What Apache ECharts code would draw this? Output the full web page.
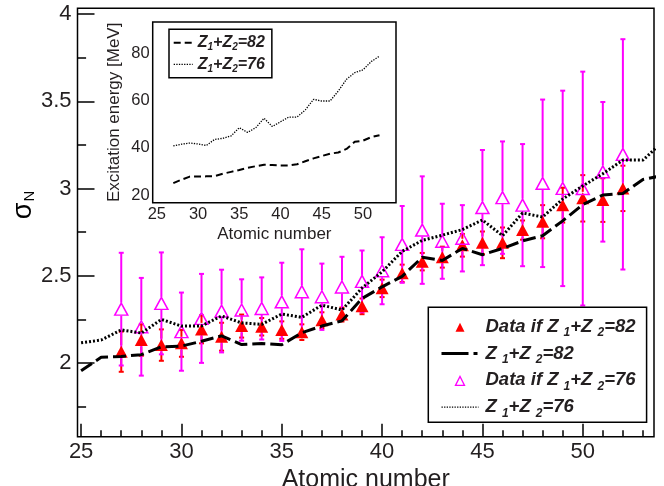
<!DOCTYPE html>
<html>
<head>
<meta charset="utf-8">
<title>Sigma_N vs atomic number</title>
<script src="https://cdn.jsdelivr.net/npm/echarts@6/dist/echarts.min.js"></script>
<style>
  html, body { margin: 0; padding: 0; background: #fff; }
  #chart { width: 664px; height: 486px; }
</style>
</head>
<body>
<div id="chart"></div>
<script>
// Atomic numbers of the measured fragments
const dataZ = [27, 28, 29, 30, 31, 32, 33, 34, 35, 36, 37, 38, 39, 40, 41, 42, 43, 44, 45, 46, 47, 48, 49, 50, 51, 52];

// sigma_N extracted assuming Z1+Z2=82, with uncertainties
const sigma82 = [2.065, 2.132, 2.103, 2.113, 2.193, 2.151, 2.212, 2.208, 2.189, 2.177, 2.246, 2.278, 2.325, 2.428, 2.514, 2.581, 2.607, 2.675, 2.689, 2.689, 2.762, 2.810, 2.905, 2.944, 2.934, 3.001];
const sigma82Err = [0.115, 0.09, 0.09, 0.077, 0.08, 0.08, 0.066, 0.05, 0.05, 0.045, 0.045, 0.04, 0.045, 0.05, 0.05, 0.05, 0.06, 0.065, 0.065, 0.088, 0.055, 0.095, 0.10, 0.133, 0.125, 0.13];

// sigma_N extracted assuming Z1+Z2=76, with uncertainties
const sigma76 = [2.309, 2.208, 2.342, 2.180, 2.256, 2.298, 2.304, 2.313, 2.351, 2.409, 2.380, 2.436, 2.468, 2.529, 2.680, 2.762, 2.698, 2.715, 2.891, 2.948, 2.905, 3.030, 3.001, 3.000, 3.096, 3.196];
const sigma76Err = [0.323, 0.28, 0.292, 0.224, 0.255, 0.237, 0.176, 0.178, 0.224, 0.243, 0.19, 0.173, 0.177, 0.192, 0.22, 0.308, 0.215, 0.19, 0.33, 0.322, 0.35, 0.48, 0.56, 0.67, 0.40, 0.66];

// Model curves for sigma_N
const curveZ = [25, 26, 27, 28, 29, 30, 31, 32, 33, 34, 35, 36, 37, 38, 39, 40, 41, 42, 43, 44, 45, 46, 47, 48, 49, 50, 51, 52, 53, 54];
const curve82 = [1.956, 2.033, 2.038, 2.048, 2.093, 2.097, 2.125, 2.156, 2.106, 2.112, 2.105, 2.174, 2.212, 2.242, 2.370, 2.437, 2.497, 2.606, 2.588, 2.657, 2.621, 2.657, 2.700, 2.730, 2.815, 2.908, 2.963, 2.972, 3.052, 3.075];
const curve76 = [2.116, 2.132, 2.190, 2.172, 2.250, 2.212, 2.213, 2.270, 2.230, 2.222, 2.281, 2.262, 2.332, 2.304, 2.430, 2.523, 2.640, 2.703, 2.733, 2.765, 2.820, 2.730, 2.860, 2.837, 2.940, 3.015, 3.085, 3.163, 3.163, 3.270];

// Excitation energy [MeV] per fragment (inset)
const excite82 = [25.0, 26.5, 27.8, 27.8, 27.9, 28.0, 29.0, 29.8, 30.6, 31.5, 32.2, 32.8, 32.7, 32.5, 32.5, 33.0, 34.3, 35.5, 36.5, 37.5, 38.0, 39.5, 42.5, 43.0, 44.5, 45.3];
const excite76 = [40.8, 41.5, 42.0, 41.6, 41.0, 43.5, 44.0, 45.0, 48.5, 46.5, 48.5, 52.5, 49.0, 51.0, 53.0, 53.0, 56.0, 60.5, 59.8, 59.8, 64.0, 69.0, 71.8, 73.0, 76.5, 78.8];

// Tick positions
const mainXMajor = [25, 30, 35, 40, 45, 50];
const mainXMinor = [25, 26, 27, 28, 29, 30, 31, 32, 33, 34, 35, 36, 37, 38, 39, 40, 41, 42, 43, 44, 45, 46, 47, 48, 49, 50, 51, 52, 53];
const mainYMajor = [2, 2.5, 3, 3.5, 4];
const mainYMinor = [1.75, 2.25, 2.75, 3.25, 3.75];
const insetXMajor = [25, 30, 35, 40, 45, 50];
const insetXMinor = mainXMinor;
const insetYMajor = [20, 40, 60, 80];
const insetYMinor = [30, 50, 70, 90];

const FONT = '"Liberation Sans", Arial, Helvetica, sans-serif';
const TEXT = '#231f20';

const zip = (xs, ...cols) => xs.map((x, i) => [x, ...cols.map(c => c[i])]);

function errorBars(color) {
  return function (params, api) {
    const x = api.value(0), v = api.value(1), e = api.value(2);
    const c = api.coord([x, v]);
    const hi = api.coord([x, v + e]);
    const lo = api.coord([x, v - e]);
    const gap = 6.5, cap = 2.5;
    const st = { stroke: color, lineWidth: 2 };
    const kids = [];
    if (c[1] - gap > hi[1]) {
      kids.push({ type: 'line', shape: { x1: c[0], y1: c[1] - gap, x2: c[0], y2: hi[1] }, style: st });
    }
    if (c[1] + gap < lo[1]) {
      kids.push({ type: 'line', shape: { x1: c[0], y1: c[1] + gap, x2: c[0], y2: lo[1] }, style: st });
    }
    kids.push({ type: 'line', shape: { x1: c[0] - cap, y1: hi[1], x2: c[0] + cap, y2: hi[1] }, style: st });
    kids.push({ type: 'line', shape: { x1: c[0] - cap, y1: lo[1], x2: c[0] + cap, y2: lo[1] }, style: st });
    return { type: 'group', children: kids };
  };
}

const tickStyle = { color: '#000', width: 1.5 };
const labelBase = { color: TEXT, fontFamily: FONT };

function tickAxis(gridIndex, min, max, values, len, label) {
  return {
    type: 'value', gridIndex, min, max,
    axisLine: { show: false },
    splitLine: { show: false },
    axisTick: { show: true, inside: true, length: len, lineStyle: tickStyle, customValues: values },
    axisLabel: label ? Object.assign({ customValues: values }, labelBase, label) : { show: false }
  };
}

const xAxes = [
  Object.assign(tickAxis(0, 24.82, 53.55, mainXMajor, 13, { fontSize: 22, margin: 4 }), {
    position: 'bottom', name: 'Atomic number', nameLocation: 'middle', nameGap: 21.5,
    nameTextStyle: { fontSize: 25, color: TEXT, fontFamily: FONT }
  }),
  Object.assign(tickAxis(0, 24.82, 53.55, mainXMinor, 6.5, null), { position: 'bottom' }),
  Object.assign(tickAxis(1, 24.5, 54, insetXMajor, 5.5, { fontSize: 16.5, margin: 3 }), {
    position: 'bottom', name: 'Atomic number', nameLocation: 'middle', nameGap: 23,
    nameTextStyle: { fontSize: 17, color: TEXT, fontFamily: FONT }
  }),
  Object.assign(tickAxis(1, 24.5, 54, insetXMinor, 2.8, null), { position: 'bottom' })
];

const yAxes = [
  Object.assign(tickAxis(0, 1.578, 4.033, mainYMajor, 17, { fontSize: 22, margin: 6 }), { position: 'left' }),
  Object.assign(tickAxis(0, 1.578, 4.033, mainYMinor, 8.6, null), { position: 'left' }),
  Object.assign(tickAxis(1, 16.74, 93.25, insetYMajor, 7.3, { fontSize: 16.5, margin: 3 }), {
    position: 'left', name: 'Excitation energy [MeV]', nameLocation: 'middle', nameGap: 30,
    nameTextStyle: { fontSize: 17, color: TEXT, fontFamily: FONT }
  }),
  Object.assign(tickAxis(1, 16.74, 93.25, insetYMinor, 3.6, null), { position: 'left' })
];

const legendLabels = {
  'Data if Z1+Z2=82': 'Data if Z {s|1}+Z {s|2}=82',
  'Z1+Z2=82': 'Z {s|1}+Z {s|2}=82',
  'Data if Z1+Z2=76': 'Data if Z {s|1}+Z {s|2}=76',
  'Z1+Z2=76': 'Z {s|1}+Z {s|2}=76',
  'E* Z1+Z2=82': 'Z{s|1}+Z{s|2}=82',
  'E* Z1+Z2=76': 'Z{s|1}+Z{s|2}=76'
};

const hiddenDot = { opacity: 0, color: 'rgba(0,0,0,0)', borderWidth: 0 };
// Legend marker: a small triangle centred in the 37x10 icon box (the extra moveTo
// points only widen the path's bounds so the triangle is not stretched)
const legendTriangle = 'path://M0,0M37,10M14,10L18.5,1L23,10Z';

const chart = echarts.init(document.getElementById('chart'), null, { renderer: 'canvas' });

chart.setOption({
  animation: false,
  backgroundColor: '#fff',
  grid: [
    { left: 77.5, top: 8.3, width: 576.5, height: 428.4, show: true, borderColor: '#000', borderWidth: 1.5,
      backgroundColor: '#fff', outerBoundsMode: 'none' },
    { left: 152.7, top: 22, width: 243.3, height: 180.7, show: true, borderColor: '#000', borderWidth: 1.5,
      backgroundColor: '#fff', outerBoundsMode: 'none', z: 5 }
  ],
  xAxis: xAxes,
  yAxis: yAxes,
  legend: [
    {
      orient: 'vertical', left: 428.3, top: 307.3, align: 'left',
      padding: [7.5, 11, 3, 11.7], itemGap: 2.8, itemWidth: 37, itemHeight: 10,
      backgroundColor: '#fff', borderColor: '#000', borderWidth: 1.5, borderRadius: 0,
      selectedMode: false,
      data: [
        { name: 'Data if Z1+Z2=82', icon: legendTriangle, itemStyle: { color: '#ff0000', borderWidth: 0 } },
        { name: 'Z1+Z2=82', itemStyle: hiddenDot, lineStyle: { type: [27, 5, 4, 20], width: 3, color: '#000' } },
        { name: 'Data if Z1+Z2=76', icon: legendTriangle, itemStyle: { color: 'rgba(0,0,0,0)', borderColor: '#ff00ff', borderWidth: 1.3 } },
        { name: 'Z1+Z2=76', itemStyle: hiddenDot, lineStyle: { type: [1.3, 1.3], width: 1.3, color: '#000' } }
      ],
      formatter: n => legendLabels[n],
      textStyle: {
        fontSize: 18.5, fontWeight: 'bold', fontStyle: 'italic', lineHeight: 20,
        fontFamily: FONT, color: TEXT, padding: [0, 0, 0, 2],
        rich: { s: { fontSize: 12, fontWeight: 'bold', fontStyle: 'italic', lineHeight: 12,
                     padding: [12, 0, 0, 0], fontFamily: FONT, color: TEXT } }
      }
    },
    {
      orient: 'vertical', left: 169, top: 29.3, align: 'left',
      padding: [3.4, 7, 3.4, 3.7], itemGap: 1.6, itemWidth: 19, itemHeight: 10,
      backgroundColor: '#fff', borderColor: '#000', borderWidth: 1.5, borderRadius: 0,
      selectedMode: false, z: 10,
      data: [
        { name: 'E* Z1+Z2=82', itemStyle: hiddenDot, lineStyle: { type: [7, 4], width: 2, color: '#000' } },
        { name: 'E* Z1+Z2=76', itemStyle: hiddenDot, lineStyle: { type: [1.3, 1.3], width: 1.3, color: '#000' } }
      ],
      formatter: n => legendLabels[n],
      textStyle: {
        fontSize: 16, fontWeight: 'bold', fontStyle: 'italic', lineHeight: 18,
        fontFamily: FONT, color: TEXT,
        rich: { s: { fontSize: 10, fontWeight: 'bold', fontStyle: 'italic', lineHeight: 10,
                     padding: [10, 0, 0, 0], fontFamily: FONT, color: TEXT } }
      }
    }
  ],
  graphic: [
    {
      type: 'text', x: 24, y: 205, rotation: Math.PI / 2, z: 20,
      style: {
        text: '{g|σ}{n|N}', align: 'center', verticalAlign: 'middle',
        rich: {
          g: { fontSize: 27, fontFamily: FONT, color: TEXT, lineHeight: 27 },
          n: { fontSize: 15, fontFamily: FONT, color: TEXT, lineHeight: 15, padding: [12, 0, 0, 1] }
        }
      }
    }
  ],
  series: [
    {
      name: 'err82', type: 'custom', xAxisIndex: 0, yAxisIndex: 0,
      renderItem: errorBars('#ff0000'),
      encode: { x: 0, y: 1 },
      data: zip(dataZ, sigma82, sigma82Err), silent: true
    },
    {
      name: 'Data if Z1+Z2=82', type: 'scatter', xAxisIndex: 0, yAxisIndex: 0,
      symbol: 'triangle', symbolSize: [13, 12],
      itemStyle: { color: '#ff0000', opacity: 1 },
      data: zip(dataZ, sigma82)
    },
    {
      name: 'err76', type: 'custom', xAxisIndex: 0, yAxisIndex: 0,
      renderItem: errorBars('#ff00ff'),
      encode: { x: 0, y: 1 },
      data: zip(dataZ, sigma76, sigma76Err), silent: true
    },
    {
      name: 'Data if Z1+Z2=76', type: 'scatter', xAxisIndex: 0, yAxisIndex: 0,
      symbol: 'triangle', symbolSize: [13, 12],
      itemStyle: { color: 'rgba(0,0,0,0)', borderColor: '#ff00ff', borderWidth: 1.5, opacity: 1 },
      data: zip(dataZ, sigma76)
    },
    {
      name: 'Z1+Z2=82', type: 'line', xAxisIndex: 0, yAxisIndex: 0,
      symbol: 'none', clip: true, itemStyle: { color: '#000' },
      lineStyle: { color: '#000', width: 3, type: [13, 5], cap: 'butt' },
      data: zip(curveZ, curve82)
    },
    {
      name: 'Z1+Z2=76', type: 'line', xAxisIndex: 0, yAxisIndex: 0,
      symbol: 'none', clip: true, itemStyle: { color: '#000' },
      lineStyle: { color: '#000', width: 3, type: [2, 2], cap: 'butt' },
      data: zip(curveZ, curve76)
    },
    {
      name: 'E* Z1+Z2=82', type: 'line', xAxisIndex: 2, yAxisIndex: 2,
      symbol: 'none', z: 6, itemStyle: { color: '#000' },
      lineStyle: { color: '#000', width: 2, type: [7, 4] },
      data: zip(dataZ, excite82)
    },
    {
      name: 'E* Z1+Z2=76', type: 'line', xAxisIndex: 2, yAxisIndex: 2,
      symbol: 'none', z: 6, itemStyle: { color: '#000' },
      lineStyle: { color: '#000', width: 1.3, type: [1.3, 1.3] },
      data: zip(dataZ, excite76)
    }
  ]
});
</script>
</body>
</html>
